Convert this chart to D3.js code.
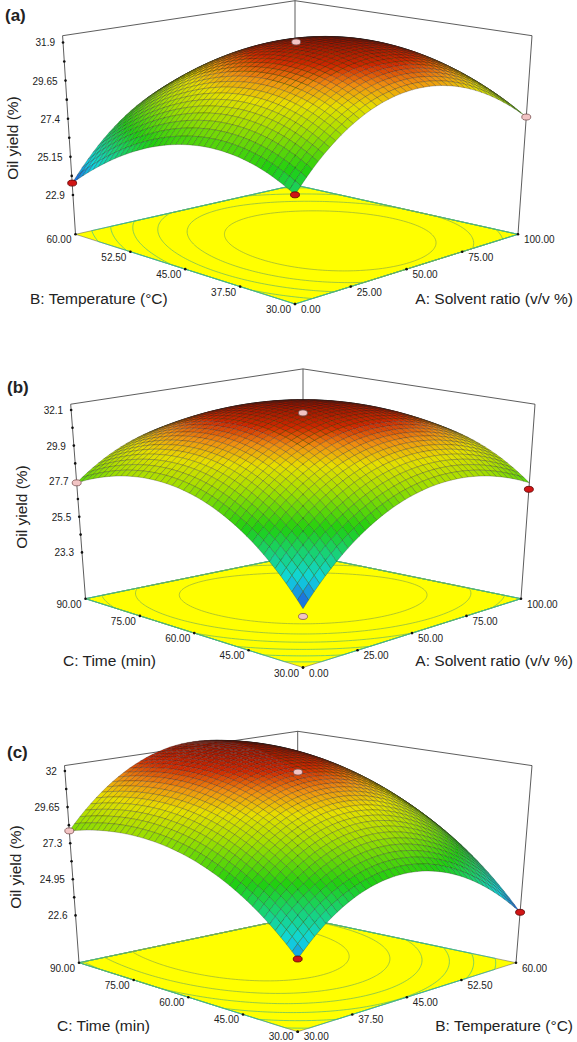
<!DOCTYPE html>
<html>
<head>
<meta charset="utf-8">
<script src="https://cdn.jsdelivr.net/npm/d3@7/dist/d3.min.js"></script>
<style>
  body { margin: 0; background: #fff; }
  text { font-family: "Liberation Sans", Arial, sans-serif; fill: #222; }
</style>
</head>
<body>
<svg id="chart" width="577" height="1042"></svg>
<script>
// ---- data ----
const panelLabels = ["(a)", "(b)", "(c)"];
const rightAxisTitles = ["A: Solvent ratio  (v/v %)", "A: Solvent ratio  (v/v %)", "B: Temperature (\u00B0C)"];
const leftAxisTitles = ["B: Temperature (\u00B0C)", "C: Time (min)", "C: Time (min)"];
const rightTicks = [
  ["0.00", "25.00", "50.00", "75.00", "100.00"],
  ["0.00", "25.00", "50.00", "75.00", "100.00"],
  ["30.00", "37.50", "45.00", "52.50", "60.00"]
];
const leftTicks = [
  ["30.00", "37.50", "45.00", "52.50", "60.00"],
  ["30.00", "45.00", "60.00", "75.00", "90.00"],
  ["30.00", "45.00", "60.00", "75.00", "90.00"]
];
const zTicks = [
  [22.9, 25.15, 27.4, 29.65, 31.9],
  [23.3, 25.5, 27.7, 29.9, 32.1],
  [22.6, 24.95, 27.3, 29.65, 32]
];
const zTickLabels = [
  ["22.9", "25.15", "27.4", "29.65", "31.9"],
  ["23.3", "25.5", "27.7", "29.9", "32.1"],
  ["22.6", "24.95", "27.3", "29.65", "32"]
];
// quadratic model in coded units: b0, bu, bv, buu, bvv, buv
const modelA = [31.9, 1.1, -0.85, -3.5, -2.5, 0.35];
const modelB = [32.1, 0.95, 0.95, -2.8, -2.8, -1.1];
const modelC = [32.0, 0.2, 2.85, -3.8, -2.2, 0.55];
const models = [modelA, modelB, modelC];
// design points: coded u, coded v, yield, marker kind
const designA = [[-1, 1, 23.6, "red"], [-1, -1, 26.0, "red"], [1, -1, 27.5, "pink"], [0, 0, 31.9, "pink"]];
const designB = [[-1, 1, 27.6, "pink"], [1, -1, 27.2, "red"], [-1, -1, 23.1, "pink"], [0, 0, 31.9, "pink"]];
const designC = [[-1, 1, 28.1, "pink"], [1, -1, 22.8, "red"], [-1, -1, 23.5, "red"], [0, 0, 31.9, "pink"]];
const designs = [designA, designB, designC];

// ---- layout of each 3D box (screen positions of box corners) ----
const boxes = [
  { F: [295, 304], L: [75.5, 234.3], R: [518, 234.3], K: [295, 185],
    Ft: [295, 67.9], Lt: [62.6, 35.7], Rt: [532, 35.7], Kt: [295, 0.7],
    zFloor: 20.58, zTop: 32.3, label: [5, 21], titleX: 30, titleY: 304, ztX: 13, ztY: 138 },
  { F: [303, 667.5], L: [85.5, 598.7], R: [521, 598.7], K: [303, 554.4],
    Ft: [303, 436.8], Lt: [70.7, 404.2], Rt: [535, 404.2], Kt: [303, 368.9],
    zFloor: 20.44, zTop: 32.46, label: [7, 393], titleX: 63, titleY: 666, ztX: 22, ztY: 507 },
  { F: [297.7, 1031.7], L: [79, 962.7], R: [516, 962.7], K: [297.7, 917],
    Ft: [297.7, 797.3], Lt: [64.5, 765.6], Rt: [532, 765.6], Kt: [297.7, 731.3],
    zFloor: 19.52, zTop: 32.35, label: [7, 758], titleX: 57, titleY: 1031, ztX: 16, ztY: 867 }
];

const svg = d3.select("#chart");
const N = 40;
const coded = d3.scaleLinear().domain([0, 1]).range([-1, 1]);

function bil(P, u, v) {
  return [
    P.F[0] * (1 - u) * (1 - v) + P.R[0] * u * (1 - v) + P.L[0] * (1 - u) * v + P.K[0] * u * v,
    P.F[1] * (1 - u) * (1 - v) + P.R[1] * u * (1 - v) + P.L[1] * (1 - u) * v + P.K[1] * u * v
  ];
}

boxes.forEach((bx, pi) => {
  const m = models[pi];
  const f = (u, v) => {
    const x = coded(u), y = coded(v);
    return m[0] + m[1] * x + m[2] * y + m[3] * x * x + m[4] * y * y + m[5] * x * y;
  };
  const tz = d3.scaleLinear().domain([bx.zFloor, bx.zTop]).range([0, 1]);
  const floorQ = { F: bx.F, L: bx.L, R: bx.R, K: bx.K };
  const topQ = { F: bx.Ft, L: bx.Lt, R: bx.Rt, K: bx.Kt };
  const proj = (u, v, z) => {
    const a = bil(floorQ, u, v), b = bil(topQ, u, v), t = tz(z);
    return [a[0] + (b[0] - a[0]) * t, a[1] + (b[1] - a[1]) * t];
  };
  const g = svg.append("g");

  const vals = [];
  for (let j = 0; j <= N; j++) for (let i = 0; i <= N; i++) vals.push(f(i / N, j / N));
  const zmin = d3.min(vals), zmax = d3.max(vals);
  const color = d3.scaleLinear()
    .domain([0, 0.15, 0.4, 0.6, 0.72, 0.82, 0.91, 1].map(d => zmin + d * (zmax - zmin)))
    .range(["#2050e0", "#10d8e0", "#20d010", "#a8e000", "#e8e000", "#f09010", "#d02800", "#9a1400"])
    .clamp(true);
  const contourColor = d3.scaleLinear().domain([zmin, zmax]).range(["#10c0b0", "#a8a828"]);

  // back vertical, side verticals and top back edges
  const edge = (p, q) => g.append("line").attr("x1", p[0]).attr("y1", p[1]).attr("x2", q[0]).attr("y2", q[1])
    .attr("stroke", "#333").attr("stroke-width", 0.8);
  edge(bx.K, bx.Kt); edge(bx.Lt, bx.Kt); edge(bx.Kt, bx.Rt); edge(bx.L, bx.Lt); edge(bx.R, bx.Rt);

  // floor
  g.append("polygon").attr("points", [bx.F, bx.R, bx.K, bx.L].map(p => p.join(",")).join(" "))
    .attr("fill", "#ffff00").attr("stroke", "#555").attr("stroke-width", 0.5);

  // floor contours
  const M = 80, cv = [];
  for (let j = 0; j < M; j++) for (let i = 0; i < M; i++) cv.push(f(i / (M - 1), j / (M - 1)));
  const levels = d3.range(1, 7).map(k => zmin + (zmax - zmin) * k / 7.2);
  const contours = d3.contours().size([M, M]).thresholds(levels)(cv);
  const clamp01 = d3.scaleLinear().domain([0.5, M - 0.5]).range([0, 1]).clamp(true);
  contours.forEach(c => {
    const path = c.coordinates.map(poly => poly.map(ring =>
      "M" + ring.map(p => bil(floorQ, clamp01(p[0]), clamp01(p[1])).join(",")).join("L") + "Z").join("")).join("");
    g.append("path").attr("d", path).attr("fill", "none")
      .attr("stroke", contourColor(c.value)).attr("stroke-width", 0.8).attr("opacity", 0.85);
  });

  // floor ticks and labels
  rightTicks[pi].forEach((lab, k) => {
    const p = bil(floorQ, k / 4, 0);
    g.append("circle").attr("cx", p[0]).attr("cy", p[1]).attr("r", 1.3).attr("fill", "#111");
    g.append("text").attr("x", p[0] + 6).attr("y", Math.min(p[1] + 9, 1040)).attr("font-size", 10).text(lab);
  });
  leftTicks[pi].forEach((lab, k) => {
    const p = bil(floorQ, 0, k / 4);
    g.append("circle").attr("cx", p[0]).attr("cy", p[1]).attr("r", 1.3).attr("fill", "#111");
    g.append("text").attr("x", p[0] - 4).attr("y", Math.min(p[1] + 9, 1040)).attr("text-anchor", "end").attr("font-size", 10).text(lab);
  });

  // z axis ticks on left vertical
  const zt = zTicks[pi];
  d3.range(0, 4.01, 0.5).forEach(k => {
    const z = zt[0] + (zt[4] - zt[0]) * k / 4;
    const p = proj(0, 1, z);
    g.append("circle").attr("cx", p[0]).attr("cy", p[1]).attr("r", 1.3).attr("fill", "#111");
    if (Number.isInteger(k)) {
      g.append("text").attr("x", p[0] - 8).attr("y", p[1] + 4).attr("text-anchor", "end")
        .attr("font-size", 10).text(zTickLabels[pi][k]);
    }
  });

  // surface quads, painter's order: far first
  const quads = [];
  for (let j = 0; j < N; j++) for (let i = 0; i < N; i++) {
    const u0 = i / N, u1 = (i + 1) / N, v0 = j / N, v1 = (j + 1) / N;
    const z00 = vals[j * (N + 1) + i], z10 = vals[j * (N + 1) + i + 1],
          z01 = vals[(j + 1) * (N + 1) + i], z11 = vals[(j + 1) * (N + 1) + i + 1];
    const zc = (z00 + z10 + z01 + z11) / 4;
    const dzu = ((z10 + z11) - (z00 + z01)) / 2 / (zmax - zmin) * 6;
    const dzv = ((z01 + z11) - (z00 + z10)) / 2 / (zmax - zmin) * 6;
    const shade = 1 / Math.sqrt(1 + dzu * dzu + dzv * dzv);
    quads.push({
      d: u0 + v0,
      pts: [proj(u0, v0, z00), proj(u1, v0, z10), proj(u1, v1, z11), proj(u0, v1, z01)],
      fill: d3.color(color(zc)).darker((1 - shade) * 0.5)
    });
  }
  quads.sort((a, b) => b.d - a.d);
  g.append("g").selectAll("polygon").data(quads).join("polygon")
    .attr("points", d => d.pts.map(p => p[0].toFixed(2) + "," + p[1].toFixed(2)).join(" "))
    .attr("fill", d => d.fill)
    .attr("stroke", "#1a1a1a").attr("stroke-width", 0.35).attr("stroke-opacity", 0.7);

  // design points
  designs[pi].forEach(dp => {
    const p = proj((dp[0] + 1) / 2, (dp[1] + 1) / 2, dp[2]);
    g.append("ellipse").attr("cx", p[0]).attr("cy", p[1]).attr("rx", 4.5).attr("ry", 3)
      .attr("fill", dp[3] === "red" ? "#d01515" : "#f2c4c4")
      .attr("stroke", dp[3] === "red" ? "#5a0000" : "#7a5050").attr("stroke-width", 0.8);
  });

  // titles
  g.append("text").attr("x", bx.label[0]).attr("y", bx.label[1]).attr("font-size", 17)
    .attr("font-weight", "bold").text(panelLabels[pi]);
  g.append("text").attr("x", bx.titleX).attr("y", bx.titleY).attr("font-size", 15.5).text(leftAxisTitles[pi]);
  g.append("text").attr("x", 573).attr("y", bx.titleY).attr("text-anchor", "end")
    .attr("font-size", 15.5).text(rightAxisTitles[pi]);
  g.append("text").attr("transform", `translate(${bx.ztX},${bx.ztY}) rotate(-90)`)
    .attr("text-anchor", "middle").attr("dy", "0.35em").attr("font-size", 15.5).text("Oil yield (%)");
});
</script>
</body>
</html>
